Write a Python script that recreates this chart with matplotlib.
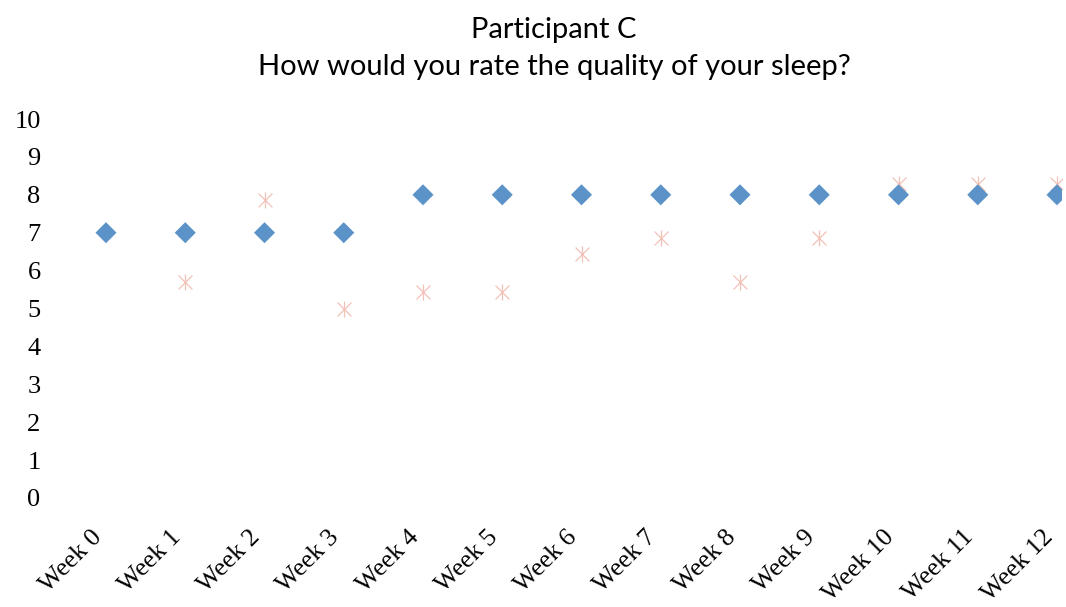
import matplotlib
matplotlib.use("Agg")
import matplotlib.pyplot as plt
import matplotlib.transforms as mtransforms

weeks = ["Week 0", "Week 1", "Week 2", "Week 3", "Week 4", "Week 5", "Week 6",
         "Week 7", "Week 8", "Week 9", "Week 10", "Week 11", "Week 12"]
# weekly rating (diamonds)
rating = [7, 7, 7, 7, 8, 8, 8, 8, 8, 8, 8, 8, 8]
# daily average for the week (asterisks), no entry for week 0
daily_avg = [None, 5.71, 7.86, 5.0, 5.43, 5.43, 6.43, 6.86, 5.71, 6.86, 8.29, 8.29, 8.29]

x = list(range(len(weeks)))
xa = [i for i, v in zip(x, daily_avg) if v is not None]
ya = [v for v in daily_avg if v is not None]

fig = plt.figure(figsize=(10.66, 6.07), dpi=100)
ax = fig.add_axes([60 / 1066, (607 - 498) / 607, (1062 - 60) / 1066, (498 - 119) / 607])

star_col = "#f3c0b8"
ax.scatter(xa, ya, marker="x", s=100, color=star_col, linewidths=0.9, zorder=2)
ax.scatter(xa, ya, marker="|", s=140, color=star_col, linewidths=0.9, zorder=2)
ax.scatter(x, rating, marker="D", s=115, color="#5b93c8", edgecolors="none", zorder=3)

ax.set_ylim(0, 10)
ax.set_xlim(-(106 - 60) / 79.25, 12 + 5 / 79.25)
ax.set_yticks(range(0, 11))
ax.set_xticks(x)
ax.set_xticklabels(weeks, rotation=45, ha="right", va="top",
                   family="Liberation Serif", fontsize=18.5)
shift = mtransforms.ScaledTranslation(6 / 100, 0, fig.dpi_scale_trans)
for t in ax.get_xticklabels():
    t.set_transform(t.get_transform() + shift)
for t in ax.get_yticklabels():
    t.set_family("Liberation Serif")
    t.set_fontsize(19)
ax.tick_params(length=0)
ax.tick_params(axis="y", pad=14)
ax.tick_params(axis="x", pad=20)
for s in ax.spines.values():
    s.set_visible(False)

fig.text(554 / 1066, 1 - 30 / 607, "Participant C", ha="center", va="center",
         family="Lato", fontsize=21)
fig.text(554 / 1066, 1 - 67 / 607, "How would you rate the quality of your sleep?",
         ha="center", va="center", family="Lato", fontsize=21)

fig.savefig("out.png", dpi=100)
